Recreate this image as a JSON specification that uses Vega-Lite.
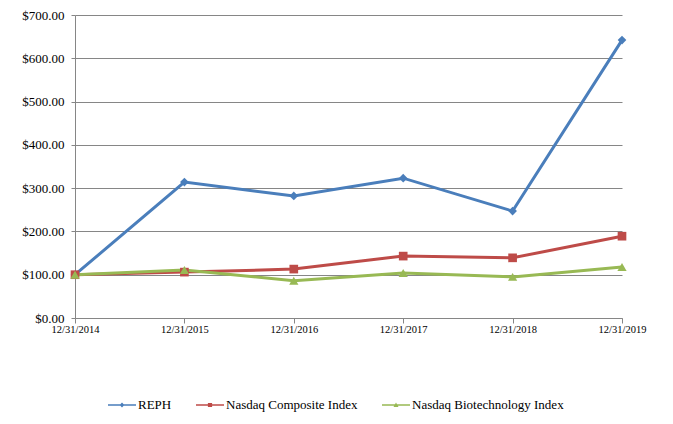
{
  "$schema": "https://vega.github.io/schema/vega-lite/v6.json",
  "width": 547,
  "height": 303,
  "autosize": {"type": "none"},
  "padding": {"left": 75, "top": 15, "right": 51, "bottom": 106},
  "background": "white",
  "config": {"view": {"stroke": null}, "font": "Liberation Serif"},
  "data": {"values": [
    {"date": "12/31/2014", "series": "REPH", "value": 100},
    {"date": "12/31/2015", "series": "REPH", "value": 314},
    {"date": "12/31/2016", "series": "REPH", "value": 282},
    {"date": "12/31/2017", "series": "REPH", "value": 323},
    {"date": "12/31/2018", "series": "REPH", "value": 247},
    {"date": "12/31/2019", "series": "REPH", "value": 642},
    {"date": "12/31/2014", "series": "Nasdaq Composite Index", "value": 100},
    {"date": "12/31/2015", "series": "Nasdaq Composite Index", "value": 106},
    {"date": "12/31/2016", "series": "Nasdaq Composite Index", "value": 113},
    {"date": "12/31/2017", "series": "Nasdaq Composite Index", "value": 143},
    {"date": "12/31/2018", "series": "Nasdaq Composite Index", "value": 139},
    {"date": "12/31/2019", "series": "Nasdaq Composite Index", "value": 189},
    {"date": "12/31/2014", "series": "Nasdaq Biotechnology Index", "value": 100},
    {"date": "12/31/2015", "series": "Nasdaq Biotechnology Index", "value": 111},
    {"date": "12/31/2016", "series": "Nasdaq Biotechnology Index", "value": 86},
    {"date": "12/31/2017", "series": "Nasdaq Biotechnology Index", "value": 104},
    {"date": "12/31/2018", "series": "Nasdaq Biotechnology Index", "value": 95},
    {"date": "12/31/2019", "series": "Nasdaq Biotechnology Index", "value": 118}
  ]},
  "encoding": {
    "x": {
      "field": "date", "type": "ordinal", "sort": null,
      "scale": {"type": "point", "padding": 0},
      "axis": {"title": null, "labelAngle": 0, "labelFont": "Liberation Serif", "labelFontSize": 10.5, "labelColor": "#000000", "labelPadding": 1, "domainColor": "#868686", "tickColor": "#868686", "tickSize": 5, "grid": false}
    },
    "y": {
      "field": "value", "type": "quantitative",
      "scale": {"domain": [0, 700], "nice": false},
      "axis": {"title": null, "values": [0, 100, 200, 300, 400, 500, 600, 700], "format": "$,.2f", "labelFont": "Liberation Serif", "labelFontSize": 13, "labelColor": "#000000", "labelPadding": 7, "domainColor": "#868686", "tickColor": "#868686", "tickSize": 4, "grid": true, "gridColor": "#868686", "gridOpacity": 1}
    },
    "color": {
      "field": "series", "type": "nominal",
      "scale": {"domain": ["REPH", "Nasdaq Composite Index", "Nasdaq Biotechnology Index"], "range": ["#4a7ebb", "#be4b48", "#98b954"]},
      "legend": {
        "title": null, "orient": "none", "direction": "horizontal", "legendX": 33, "legendY": 376,
        "padding": 0, "columnPadding": 24, "labelOffset": 2, "symbolSize": 784,
        "labelFont": "Liberation Serif", "labelFontSize": 13, "labelColor": "#000000",
        "encode": {"symbols": {"update": {
          "shape": {"signal": "datum.value === 'REPH' ? 'M-1,-0.05H1V0.05H-1Z M0,-0.17L0.17,0L0,0.17L-0.17,0Z' : datum.value === 'Nasdaq Composite Index' ? 'M-1,-0.05H1V0.05H-1Z M-0.15,-0.15H0.15V0.15H-0.15Z' : 'M-1,-0.05H1V0.05H-1Z M0,-0.17L0.18,0.14H-0.18Z'"},
          "fill": {"scale": "color", "field": "value"},
          "fillOpacity": {"value": 1},
          "strokeWidth": {"value": 0}
        }}}
      }
    }
  },
  "layer": [
    {"mark": {"type": "line", "strokeWidth": 3}},
    {"transform": [{"filter": "datum.series === 'REPH'"}],
     "mark": {"type": "point", "filled": true, "size": 75, "opacity": 1, "shape": "diamond"}},
    {"transform": [{"filter": "datum.series === 'Nasdaq Composite Index'"}],
     "mark": {"type": "point", "filled": true, "size": 75, "opacity": 1, "shape": "square"}},
    {"transform": [{"filter": "datum.series === 'Nasdaq Biotechnology Index'"}],
     "mark": {"type": "point", "filled": true, "size": 85, "opacity": 1, "shape": "triangle-up"}}
  ]
}
